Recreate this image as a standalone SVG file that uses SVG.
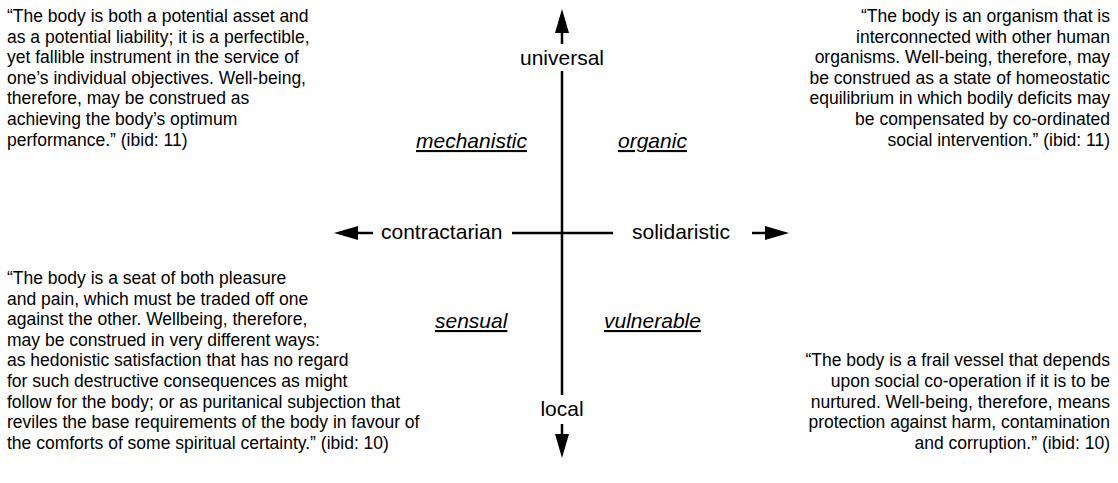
<svg xmlns="http://www.w3.org/2000/svg" width="1118" height="483" viewBox="0 0 1118 483">
  <style>
    .t { font-family: "Liberation Sans", Arial, sans-serif; font-size: 17.5px; fill: #000; }
    .l { font-family: "Liberation Sans", Arial, sans-serif; font-size: 21px; fill: #000; }
    .r { text-anchor: end; }
    .c { text-anchor: middle; }
    .q { font-style: italic; text-decoration: underline; }
    .ax { stroke: #000; stroke-width: 2.5; fill: none; }
  </style>
  <defs>
    <marker id="head" viewBox="0 0 24 14" refX="0" refY="7" markerWidth="24" markerHeight="14" orient="auto" markerUnits="userSpaceOnUse">
      <path d="M0,0 L24,7 L0,14 Z" fill="#000"/>
    </marker>
  </defs>
  <rect width="1118" height="483" fill="#fff"/>

  <!-- axes -->
  <g id="connectors">
    <line class="ax" x1="562" y1="44" x2="562" y2="33" marker-end="url(#head)"/>
    <line class="ax" x1="562" y1="71" x2="562" y2="395"/>
    <line class="ax" x1="562" y1="424" x2="562" y2="434" marker-end="url(#head)"/>
    <line class="ax" x1="373" y1="233" x2="358" y2="233" marker-end="url(#head)"/>
    <line class="ax" x1="512" y1="233" x2="613" y2="233"/>
    <line class="ax" x1="752" y1="233" x2="765" y2="233" marker-end="url(#head)"/>
  </g>

  <!-- axis labels -->
  <g id="axis-universal"><text class="l c" x="562" y="65">universal</text></g>
  <g id="axis-local"><text class="l c" x="562" y="416">local</text></g>
  <g id="axis-contractarian"><text class="l" x="381" y="239">contractarian</text></g>
  <g id="axis-solidaristic"><text class="l" x="632" y="239">solidaristic</text></g>

  <!-- quadrant labels -->
  <g id="label-mechanistic"><text class="l q" x="416" y="148">mechanistic</text></g>
  <g id="label-organic"><text class="l q" x="618" y="148">organic</text></g>
  <g id="label-sensual"><text class="l q" x="435" y="328">sensual</text></g>
  <g id="label-vulnerable"><text class="l q" x="604" y="328">vulnerable</text></g>

  <!-- quotations -->
  <g id="quote-mechanistic">
    <text class="t" x="7" y="22">“The body is both a potential asset and</text>
    <text class="t" x="7" y="42.6">as a potential liability; it is a perfectible,</text>
    <text class="t" x="7" y="63.2">yet fallible instrument in the service of</text>
    <text class="t" x="7" y="83.8">one’s individual objectives. Well-being,</text>
    <text class="t" x="7" y="104.4">therefore, may be construed as</text>
    <text class="t" x="7" y="125">achieving the body’s optimum</text>
    <text class="t" x="7" y="145.6">performance.” (ibid: 11)</text>
  </g>
  <g id="quote-organic">
    <text class="t r" x="1110" y="22">“The body is an organism that is</text>
    <text class="t r" x="1110" y="42.6">interconnected with other human</text>
    <text class="t r" x="1110" y="63.2">organisms. Well-being, therefore, may</text>
    <text class="t r" x="1110" y="83.8">be construed as a state of homeostatic</text>
    <text class="t r" x="1110" y="104.4">equilibrium in which bodily deficits may</text>
    <text class="t r" x="1110" y="125">be compensated by co-ordinated</text>
    <text class="t r" x="1110" y="145.6">social intervention.” (ibid: 11)</text>
  </g>
  <g id="quote-sensual">
    <text class="t" x="7" y="284">“The body is a seat of both pleasure</text>
    <text class="t" x="7" y="304.6">and pain, which must be traded off one</text>
    <text class="t" x="7" y="325.2">against the other. Wellbeing, therefore,</text>
    <text class="t" x="7" y="345.8">may be construed in very different ways:</text>
    <text class="t" x="7" y="366.4">as hedonistic satisfaction that has no regard</text>
    <text class="t" x="7" y="387">for such destructive consequences as might</text>
    <text class="t" x="7" y="407.6">follow for the body; or as puritanical subjection that</text>
    <text class="t" x="7" y="428.2">reviles the base requirements of the body in favour of</text>
    <text class="t" x="7" y="448.8">the comforts of some spiritual certainty.” (ibid: 10)</text>
  </g>
  <g id="quote-vulnerable">
    <text class="t r" x="1110" y="366.4">“The body is a frail vessel that depends</text>
    <text class="t r" x="1110" y="387">upon social co-operation if it is to be</text>
    <text class="t r" x="1110" y="407.6">nurtured. Well-being, therefore, means</text>
    <text class="t r" x="1110" y="428.2">protection against harm, contamination</text>
    <text class="t r" x="1110" y="448.8">and corruption.” (ibid: 10)</text>
  </g>
</svg>
